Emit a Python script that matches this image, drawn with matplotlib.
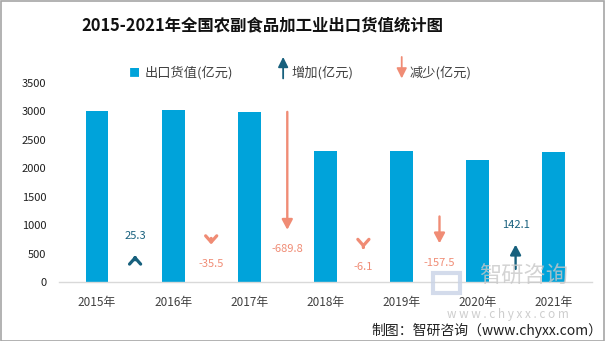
import matplotlib
matplotlib.use('Agg')
from matplotlib import pyplot as plt
from matplotlib.patches import Rectangle
import numpy as np

plt.rcParams['font.family'] = ['Noto Sans CJK SC', 'DejaVu Sans']

##############
# Chart data #
##############

years = ['2015年', '2016年', '2017年', '2018年', '2019年', '2020年', '2021年']
export_value = [3000.9, 3026.2, 2990.7, 2300.9, 2294.8, 2137.3, 2279.4]
changes = [25.3, -35.5, -689.8, -6.1, -157.5, 142.1]
# where each change arrow starts (primary axis units)
arrow_tail = [390, 765, 2985, 615, 1150, 230]
arrow_scale = 3.0

bar_color = '#00A3DA'
up_color = '#17607D'
down_color = '#F08C75'

###############
# Draw figure #
###############

fig = plt.figure(figsize=(6.05, 3.41), dpi=100)
ax = fig.add_axes([0.0975, 0.173, 0.8805, 0.585])

x = np.arange(len(years))
ax.bar(x, export_value, width=0.30, color=bar_color, zorder=2)

for i, (ch, tail) in enumerate(zip(changes, arrow_tail)):
    xpos = i + 0.5
    head = tail + ch * arrow_scale
    col = up_color if ch > 0 else down_color
    if abs(ch) * arrow_scale < 150:
        style = '->,head_length=0.45,head_width=0.4'
        lw = 2.3
    else:
        style = '-|>,head_length=0.6,head_width=0.32'
        lw = 1.7
    ax.annotate('', xy=(xpos, head), xytext=(xpos, tail),
                arrowprops=dict(arrowstyle=style, color=col, lw=lw,
                                shrinkA=0, shrinkB=0, mutation_scale=10),
                zorder=3)
    if ch > 0:
        ax.annotate('%.1f' % ch, xy=(xpos, head), xytext=(0, 14),
                    textcoords='offset points', ha='center', va='center',
                    color=col, fontsize=8)
    else:
        ax.annotate('%.1f' % ch, xy=(xpos, head), xytext=(0, -14),
                    textcoords='offset points', ha='center', va='center',
                    color=col, fontsize=8)

ax.set_xlim(-0.5, len(years) - 0.5)
ax.set_ylim(0, 3500)
ax.set_yticks(np.arange(0, 3501, 500))
ax.set_xticks(x)
ax.set_xticklabels(years, fontsize=8.5, color='#404040')
ax.tick_params(axis='y', length=0, pad=9, labelsize=8, labelcolor='#202020')
ax.tick_params(axis='x', length=0, pad=10)
for s in ['left', 'right', 'top']:
    ax.spines[s].set_visible(False)
ax.spines['bottom'].set_color('#D9D9D9')
ax.spines['bottom'].set_linewidth(1.0)

##########
# Titles #
##########

fig.text(0.433, 0.927, '2015-2021年全国农副食品加工业出口货值统计图',
         ha='center', va='center', fontsize=11.8, fontweight='bold', color='#111111')

# legend drawn by hand
fig.text(0.223, 0.786, '■', ha='center', va='center', fontsize=8, color=bar_color)
fig.text(0.239, 0.786, '出口货值(亿元)', ha='left', va='center', fontsize=9.5, color='#404040')
ax.annotate('', xy=(0.468, 0.833), xytext=(0.468, 0.770), xycoords='figure fraction',
            arrowprops=dict(arrowstyle='-|>,head_length=0.6,head_width=0.3', color=up_color,
                            lw=1.3, shrinkA=0, shrinkB=0, mutation_scale=10))
fig.text(0.481, 0.786, '增加(亿元)', ha='left', va='center', fontsize=9.5, color='#404040')
ax.annotate('', xy=(0.664, 0.770), xytext=(0.664, 0.833), xycoords='figure fraction',
            arrowprops=dict(arrowstyle='-|>,head_length=0.6,head_width=0.3', color=down_color,
                            lw=1.3, shrinkA=0, shrinkB=0, mutation_scale=10))
fig.text(0.677, 0.786, '减少(亿元)', ha='left', va='center', fontsize=9.5, color='#404040')

# watermark
fig.patches.append(Rectangle((0.716, 0.14), 0.044, 0.06, transform=fig.transFigure,
                             fill=False, ec='#C9D3E6', lw=3, alpha=0.8))
fig.text(0.865, 0.19, '智研咨询', ha='center', va='center', fontsize=16,
         color='#C8C8C8', alpha=0.8)
fig.text(0.84, 0.077, 'w w w . c h y x x . c o m', ha='center', va='center',
         fontsize=8.5, color='#C8C8C8', alpha=0.9)

fig.text(0.995, 0.032, '制图：智研咨询（www.chyxx.com）', ha='right', va='center',
         fontsize=10, color='#202020')

# outer frame
fig.patches.append(Rectangle((0.001, 0.001), 0.997, 0.996, transform=fig.transFigure,
                             fill=False, ec='#A6A6A6', lw=1.2))

fig.savefig('out.png', dpi=100)
